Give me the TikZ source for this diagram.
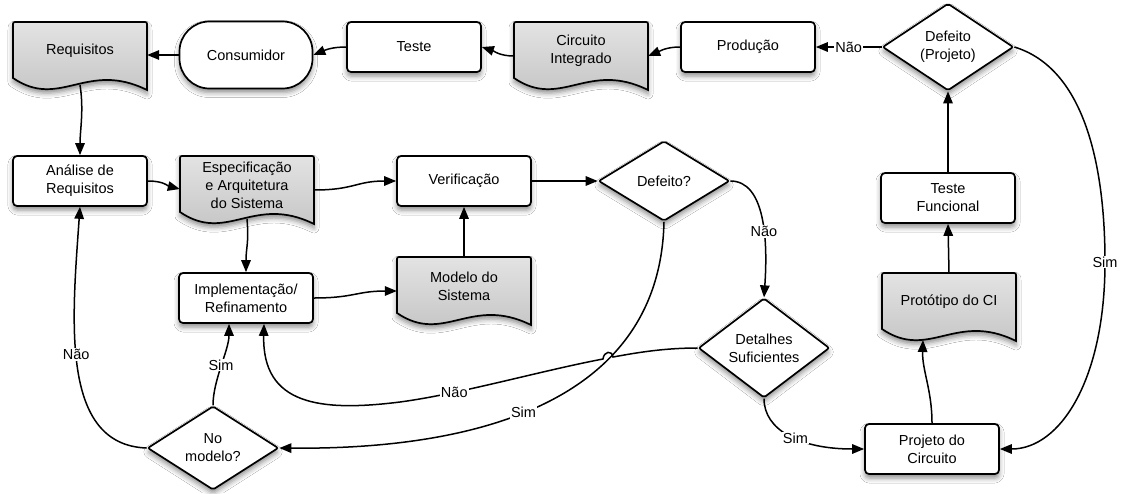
\documentclass[tikz,border=0pt]{standalone}
\usepackage{fontspec}
\setmainfont{Liberation Sans}
\usetikzlibrary{shapes.geometric,arrows.meta,shadows.blur,calc}

\tikzset{
  flow/.style={line width=1.5pt, -{Triangle[length=12pt,width=9.5pt]}},
  softshadow/.style={blur shadow={shadow xshift=0pt,shadow yshift=-4pt,shadow blur radius=5pt,shadow opacity=45}},
  box/.style={draw, line width=1.7pt, rounded corners=4pt, fill=white, softshadow,
    minimum width=134pt, minimum height=50pt, align=center, inner sep=2pt},
  terminal/.style={box, rounded corners=30pt, minimum width=133pt, minimum height=67pt},
  decision/.style={diamond, draw, line width=1.7pt, rounded corners=2pt, fill=white, softshadow,
    minimum width=131pt, minimum height=80pt, inner sep=0pt, align=center},
  doctext/.style={minimum width=134pt, minimum height=58pt, align=center, inner sep=0pt},
  docbody/.style={draw, line width=1.7pt, top color=black!11, bottom color=black!25, softshadow},
  lbl/.style={fill=white, inner sep=1pt},
}

% document symbol: flat top with rounded corners, wavy bottom edge
\newcommand\docnode[4]{%
  \begin{scope}[shift={(#2,#3)}]
    \path[docbody] (0,56) -- (0,4) .. controls (0,0) .. (4,0) -- (130,0)
      .. controls (134,0) .. (134,4) -- (134,68)
      .. controls (73.7,38) and (46.9,88) .. (0,56) -- cycle;
    \node[doctext] (#1) at (67,29) {#4};
    \coordinate (#1 foot) at (67,63);
    \coordinate (#1 heel) at (41,67);
  \end{scope}}

\begin{document}
\begin{tikzpicture}[x=1pt,y=-1pt,every node/.style={font=\fontsize{14.5}{18}\selectfont}]
\fill[white] (0,0) rectangle (1121,493);
\useasboundingbox (0,0) rectangle (1121,493);

% top row
\docnode{req}{13}{22}{Requisitos}
\node[terminal] (cons) at (246,55) {Consumidor};
\node[box] (teste) at (414,47) {Teste};
\docnode{circ}{514}{22}{Circuito\\Integrado}
\node[box] (prod) at (748,47) {Produção};
\node[decision] (defp) at (948,47) {Defeito\\(Projeto)};

% middle
\node[box] (ana) at (80,181) {Análise de\\Requisitos};
\docnode{spec}{180}{156}{Especificação\\e Arquitetura\\do Sistema}
\node[box] (verif) at (464,181) {Verificação};
\node[decision] (def) at (664,181) {Defeito?};
\node[box] (tf) at (948,198) {Teste\\Funcional};
\docnode{prot}{882}{273}{Protótipo do CI}
\node[box] (impl) at (246,298) {Implementação/\\Refinamento};
\docnode{model}{397}{257}{Modelo do\\Sistema}

% bottom
\node[decision] (det) at (764,348) {Detalhes\\Suficientes};
\node[decision] (nomod) at (213,448) {No\\modelo?};
\node[box] (proj) at (932,449) {Projeto do\\Circuito};

% connectors, top row
\draw[flow] (cons.west) -- (cons.west -| req.east);
\draw[flow] (teste.west) .. controls +(-14,0) and +(12,-5) .. (cons.east);
\draw[flow] ([yshift=-5pt]circ.west) .. controls +(-14,0) and +(12,4) .. (teste.east);
\draw[flow] (prod.west) .. controls +(-14,0) and +(12,-5) .. ([yshift=-5pt]circ.east);
\draw[flow] (defp.west) -- node[lbl]{Não} (prod.east);

% connectors, design flow
\draw[flow] (req foot) .. controls +(4,25) and +(0,-25) .. (ana.north);
\draw[flow] (ana.east) .. controls +(16,0) and +(-12,-3) .. ([yshift=-4pt]spec.west);
\draw[flow] ([yshift=-5pt]spec.east) .. controls +(40,0) and +(-40,0) .. (verif.west);
\draw[flow] (spec foot) .. controls +(2,25) and +(0,-25) .. (impl.north);
\draw[flow] (impl.east) .. controls +(40,0) and +(-40,0) .. ([yshift=-5pt]model.west);
\draw[flow] (model.north) -- (verif.south);
\draw[flow] (verif.east) -- (def.west);
\draw[flow] (def.east) .. controls (765,181) and (768,240) .. node[lbl,pos=0.6]{Não} (det.north);
\draw[flow] (def.south) .. controls (660,400) and (480,450) .. node[lbl,pos=0.55]{Sim} (nomod.east);

% "Não" from Detalhes, hopping over the "Sim" line
\draw[flow] (det.west) .. controls (660,348) and (630,354) .. (613,357)
  .. controls (612,350) and (604,351) .. (603,359)
  .. controls (540,371) and (460,394) .. node[lbl,pos=0.72]{Não} (400,402)
  .. controls (320,412) and (262,405) .. ([xshift=18pt]impl.south);
\draw[flow] (nomod.north) .. controls (213,380) and (229,350) .. node[lbl]{Sim} ([xshift=-17pt]impl.south);
\draw[flow] (nomod.west) .. controls (60,445) and (72,320) .. node[lbl,pos=0.55]{Não} (ana.south);

% connectors, circuit side
\draw[flow] (det.south) .. controls (764,430) and (800,449) .. node[lbl,pos=0.55]{Sim} (proj.west);
\draw[flow] (proj.north) .. controls (932,390) and (922,370) .. (prot heel);
\draw[flow] (prot.north) -- (tf.south);
\draw[flow] (tf.north) -- (defp.south);
\coordinate (simturn) at (1105,262);
\draw[flow] (defp.east) .. controls (1090,70) and (1105,180) .. (simturn) node[lbl]{Sim}
  .. controls (1105,380) and (1060,449) .. (proj.east);
\end{tikzpicture}
\end{document}
